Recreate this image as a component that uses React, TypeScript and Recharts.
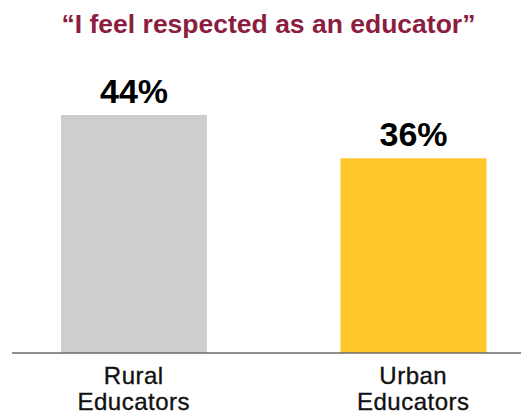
import { BarChart, Bar, XAxis, YAxis, Cell, LabelList } from 'recharts';

const categories = ['Rural Educators', 'Urban Educators'];
const values = [44, 36];
const barColors = ['#CDCECF', '#FFC72C'];
const chartTitle = '\u201CI feel respected as an educator\u201D';

const data = categories.map((name, i) => ({ name, value: values[i] }));

const FONT = '"Liberation Sans", Arial, Helvetica, sans-serif';

function TwoLineTick(props: any) {
  const { x, y, payload } = props;
  const words = String(payload.value).split(' ');
  return (
    <text
      x={x}
      y={y}
      textAnchor="middle"
      fill="#111"
      stroke="#111"
      strokeWidth={0.35}
      letterSpacing={0.5}
      fontSize={24}
      fontFamily={FONT}
    >
      {words.map((w, i) => (
        <tspan key={w} x={x} dy={i === 0 ? 31 : 26}>
          {w}
        </tspan>
      ))}
    </text>
  );
}

export default function App() {
  return (
    <div
      style={{
        position: 'absolute',
        left: 0,
        top: 0,
        width: 521,
        height: 414,
        background: '#fff',
        fontFamily: FONT,
      }}
    >
      <div
        style={{
          position: 'absolute',
          left: 0,
          top: 9,
          width: 537,
          textAlign: 'center',
          fontSize: 26.5,
          lineHeight: '30px',
          fontWeight: 700,
          color: '#8B1D3F',
        }}
      >
        {chartTitle}
      </div>
      <BarChart
        width={521}
        height={414}
        data={data}
        margin={{ top: 82.5, right: 0, bottom: 1, left: 12 }}
      >
        <YAxis hide domain={[0, 50]} />
        <XAxis
          dataKey="name"
          height={60}
          padding={{ left: -18, right: -32 }}
          tickSize={0}
          tickMargin={0}
          axisLine={{ stroke: '#6b6b6b', strokeWidth: 1.5 }}
          tickLine={false}
          interval={0}
          tick={<TwoLineTick />}
        />
        <Bar dataKey="value" barSize={146} isAnimationActive={false}>
          {data.map((d, i) => (
            <Cell key={d.name} fill={barColors[i]} />
          ))}
          <LabelList
            dataKey="value"
            position="top"
            offset={12}
            formatter={(v: any) => `${v}%`}
            fill="#000"
            fontSize={34}
            fontWeight={700}
            fontFamily={FONT}
          />
        </Bar>
      </BarChart>
    </div>
  );
}
